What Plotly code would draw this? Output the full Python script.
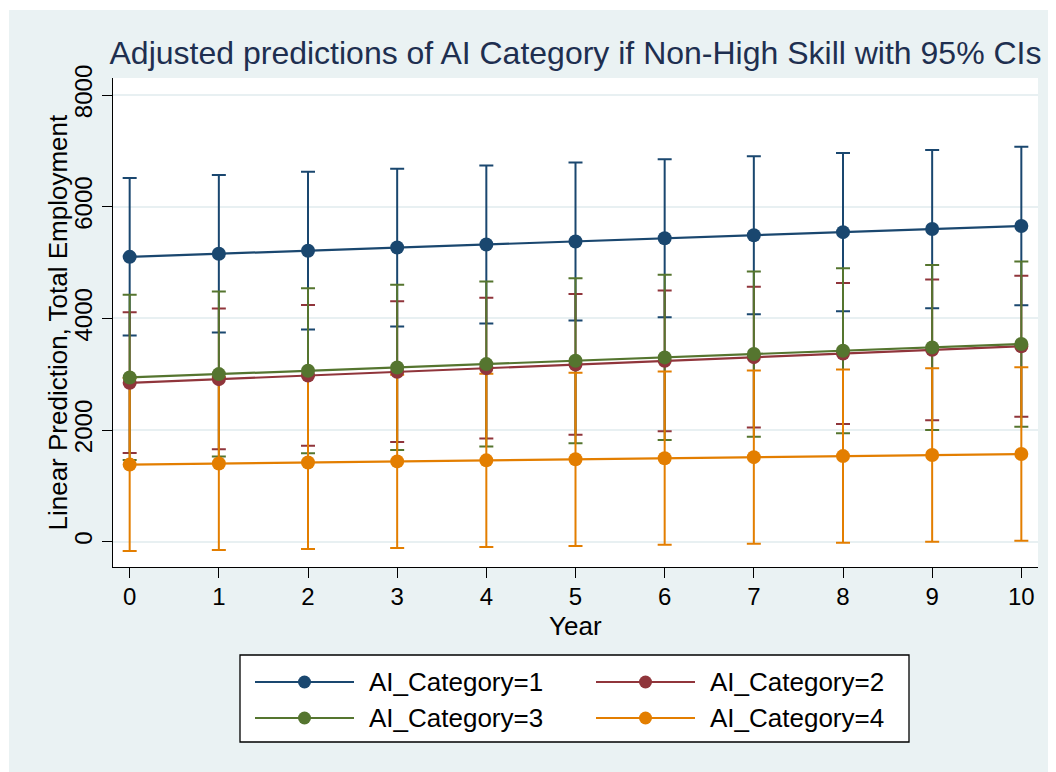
import plotly.graph_objects as go

years = [0, 1, 2, 3, 4, 5, 6, 7, 8, 9, 10]

cat1_mean = [5102, 5157, 5212, 5268, 5323, 5378, 5434, 5489, 5544, 5600, 5655]
cat1_lo = [3692, 3747, 3801, 3856, 3910, 3964, 4019, 4073, 4128, 4182, 4237]
cat1_hi = [6512, 6568, 6624, 6680, 6736, 6792, 6848, 6904, 6960, 7016, 7072]

cat2_mean = [2845, 2911, 2976, 3042, 3108, 3173, 3239, 3305, 3370, 3436, 3501]
cat2_lo = [1590, 1655, 1720, 1785, 1850, 1915, 1980, 2045, 2110, 2175, 2240]
cat2_hi = [4111, 4176, 4241, 4306, 4371, 4436, 4501, 4566, 4632, 4697, 4762]

cat3_mean = [2942, 3002, 3062, 3121, 3181, 3241, 3301, 3361, 3420, 3480, 3540]
cat3_lo = [1464, 1524, 1584, 1643, 1703, 1763, 1822, 1882, 1942, 2001, 2061]
cat3_hi = [4421, 4481, 4540, 4600, 4660, 4720, 4779, 4839, 4899, 4958, 5018]

cat4_mean = [1381, 1400, 1419, 1438, 1457, 1476, 1495, 1514, 1533, 1552, 1571]
cat4_lo = [-167, -149, -130, -112, -93, -75, -56, -38, -19, -1, 18]
cat4_hi = [2930, 2950, 2969, 2989, 3008, 3028, 3047, 3067, 3086, 3106, 3125]

labels = ["AI_Category=1", "AI_Category=2", "AI_Category=3", "AI_Category=4"]
colors = ["#1a476f", "#90353b", "#55752f", "#e37e00"]

y_ticks = [0, 2000, 4000, 6000, 8000]

series = [
    (cat1_mean, cat1_lo, cat1_hi),
    (cat2_mean, cat2_lo, cat2_hi),
    (cat3_mean, cat3_lo, cat3_hi),
    (cat4_mean, cat4_lo, cat4_hi),
]

FONT = "Liberation Sans, Arial, Helvetica, sans-serif"
OFF = 8  # page body margin
W, H = 1048, 764
L, R, T, B = 105, 18, 70, 205
PW, PH = W - L - R, H - T - B


def px(x):
    # x given in screen (window) pixels
    return (x - OFF - L) / PW


def py(y):
    return (H - B - (y - OFF)) / PH


fig = go.Figure()

# confidence intervals first
for (m, lo, hi), c in zip(series, colors):
    fig.add_trace(go.Scatter(
        x=years, y=m, mode="markers",
        marker=dict(size=2, color="rgba(0,0,0,0)"),
        error_y=dict(type="data", symmetric=False,
                     array=[h - v for h, v in zip(hi, m)],
                     arrayminus=[v - l for v, l in zip(m, lo)],
                     color=c, thickness=2, width=7),
        showlegend=False, hoverinfo="skip",
    ))

# lines and markers
for (m, lo, hi), c, name in zip(series, colors, labels):
    fig.add_trace(go.Scatter(
        x=years, y=m, mode="lines+markers", name=name,
        line=dict(color=c, width=2.2),
        marker=dict(color=c, size=14),
        showlegend=False,
    ))

shapes = []
annotations = []

# thin white outer border (top / left)
shapes.append(dict(type="rect", xref="paper", yref="paper",
                   x0=px(OFF), x1=px(9), y0=py(H + OFF), y1=py(OFF),
                   fillcolor="white", line=dict(width=0), layer="above"))
shapes.append(dict(type="rect", xref="paper", yref="paper",
                   x0=px(OFF), x1=px(W + OFF), y0=py(10), y1=py(OFF),
                   fillcolor="white", line=dict(width=0), layer="above"))

# custom legend
shapes.append(dict(type="rect", xref="paper", yref="paper",
                   x0=px(240), x1=px(909), y0=py(742), y1=py(655),
                   fillcolor="white", line=dict(color="black", width=1.3),
                   layer="above"))
leg_pos = [(255, 682), (596, 682), (255, 718), (596, 718)]
for (lx, ly), c, name in zip(leg_pos, colors, labels):
    shapes.append(dict(type="line", xref="paper", yref="paper",
                       x0=px(lx), x1=px(lx + 99), y0=py(ly), y1=py(ly),
                       line=dict(color=c, width=2.2), layer="above"))
    shapes.append(dict(type="circle", xref="paper", yref="paper",
                       xsizemode="pixel", ysizemode="pixel",
                       xanchor=px(lx + 49.5), yanchor=py(ly),
                       x0=-6.5, x1=6.5, y0=-6.5, y1=6.5,
                       fillcolor=c, line=dict(color=c, width=0), layer="above"))
    annotations.append(dict(xref="paper", yref="paper", x=px(lx + 112), y=py(ly),
                            text=name, showarrow=False, xanchor="left",
                            yanchor="middle",
                            font=dict(family=FONT, size=26, color="black")))

# axis titles
annotations.append(dict(xref="paper", yref="paper", x=px(57), y=0.5,
                        text="Linear Prediction, Total Employment",
                        textangle=-90, showarrow=False, xanchor="center",
                        yanchor="middle",
                        font=dict(family=FONT, size=26, color="black")))
annotations.append(dict(xref="paper", yref="paper", x=0.5, y=py(626),
                        text="Year", showarrow=False, xanchor="center",
                        yanchor="middle",
                        font=dict(family=FONT, size=26, color="black")))

fig.update_layout(
    width=W, height=H,
    margin=dict(l=L, r=R, t=T, b=B, pad=0),
    paper_bgcolor="#eaf2f3",
    plot_bgcolor="white",
    font=dict(family=FONT, size=24, color="black"),
    title=dict(text="Adjusted predictions of AI Category if Non-High Skill with 95% CIs",
               x=0.5, xref="paper", xanchor="center",
               y=1 - (53 - OFF) / H, yref="container", yanchor="middle",
               font=dict(family=FONT, size=32, color="#1e2f50")),
    shapes=shapes,
    annotations=annotations,
    showlegend=False,
    xaxis=dict(range=[-0.187, 10.187], tickvals=years, showgrid=False,
               zeroline=False, showline=True, linecolor="black", linewidth=1.3,
               ticks="outside", ticklen=10, tickwidth=1.3, tickcolor="black",
               tickfont=dict(family=FONT, size=24, color="black"),
               ticklabelstandoff=-2),
    yaxis=dict(range=[-453, 8305], tickvals=y_ticks, showgrid=True,
               gridcolor="#e8f0f2", gridwidth=1.5,
               zeroline=False, showline=True, linecolor="black", linewidth=1.3,
               ticks="outside", ticklen=10, tickwidth=1.3, tickcolor="black",
               tickangle=-90,
               tickfont=dict(family=FONT, size=24, color="black"),
               ticklabelstandoff=0),
)

fig.write_html("out.html")
